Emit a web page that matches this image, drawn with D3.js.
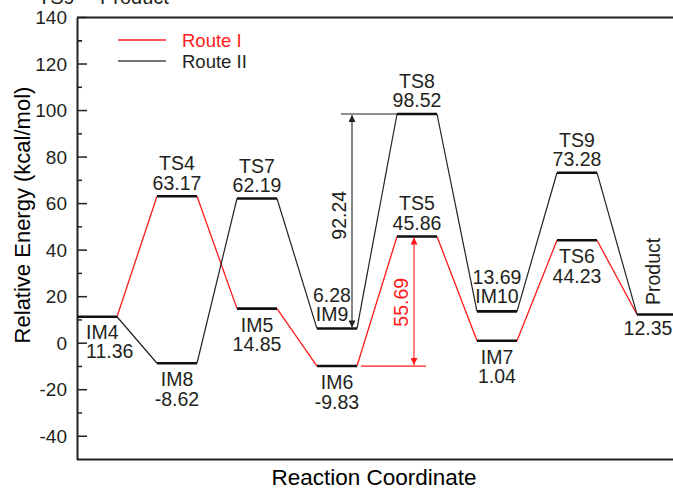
<!DOCTYPE html>
<html>
<head>
<meta charset="utf-8">
<script src="https://cdn.jsdelivr.net/npm/d3@7"></script>
<style>
  html, body { margin: 0; padding: 0; background: #fff; }
  svg { display: block; font-family: "Liberation Sans", Arial, sans-serif; }
</style>
</head>
<body>
<svg id="chart" width="673" height="489"></svg>
<script>
// ---------------- data ----------------
const routeINames   = ["IM4", "TS4", "IM5", "IM6", "TS5", "IM7", "TS6", "Product"];
const routeIValues  = [11.36, 63.17, 14.85, -9.83, 45.86, 1.04, 44.23, 12.35];
const routeIINames  = ["IM4", "IM8", "TS7", "IM9", "TS8", "IM10", "TS9", "Product"];
const routeIIValues = [11.36, -8.62, 62.19, 6.28, 98.52, 13.69, 73.28, 12.35];
const seriesNames   = ["Route I", "Route II"];
const yTickValues   = [-40, -20, 0, 20, 40, 60, 80, 100, 120, 140];
const barrierFrom   = ["IM6", "IM9"];
const barrierTo     = ["TS5", "TS8"];
const barrierValues = [55.69, 92.24];

(function () {
// ---------------- layout ----------------
const pL = 77, pT = 17.5, pB = 459.5, pR = 720;
const svg = d3.select("#chart");
const textColor = "#231f20";
const red = "#ff1a1a";
const fmt2 = v => v.toFixed(2);           // plain hyphen minus, as in the reference

const y = d3.scaleLinear().domain([-50, 140]).range([pB, pT]);
const x = d3.scaleLinear().domain([0, 1]).range([pL, pL + 80]); // slot index -> left edge of level
const levelW = x(0.5) - x(0);

// frame
svg.append("line").attr("x1", pL).attr("x2", pR).attr("y1", pT).attr("y2", pT)
  .attr("stroke", "#222").attr("stroke-width", 2);
svg.append("line").attr("x1", pL).attr("x2", pR).attr("y1", pB).attr("y2", pB)
  .attr("stroke", "#222").attr("stroke-width", 2);

// y axis
const yAxis = d3.axisLeft(y).tickValues(yTickValues).tickSize(0).tickPadding(10)
  .tickFormat(d => String(d));
const gy = svg.append("g").attr("transform", `translate(${pL},0)`).call(yAxis);
gy.select(".domain").attr("stroke", "#222").attr("stroke-width", 2);
gy.selectAll(".tick text").attr("font-size", 19).attr("fill", textColor)
  .attr("font-family", '"Liberation Sans", Arial, sans-serif');
// inward ticks (major + minor)
const majorTicks = yTickValues;
const minorTicks = yTickValues.map(v => v - 10).concat([130]).filter(v => v > -50);
svg.append("g").selectAll("line").data(majorTicks).join("line")
  .attr("x1", pL).attr("x2", pL + 10).attr("y1", d => y(d)).attr("y2", d => y(d))
  .attr("stroke", "#222").attr("stroke-width", 1.5);
svg.append("g").selectAll("line").data(minorTicks).join("line")
  .attr("x1", pL).attr("x2", pL + 5).attr("y1", d => y(d)).attr("y2", d => y(d))
  .attr("stroke", "#222").attr("stroke-width", 1.5);

// axis titles
svg.append("text").attr("transform", `translate(30,215) rotate(-90)`)
  .attr("text-anchor", "middle").attr("font-size", 22).attr("fill", "#000")
  .text("Relative Energy (kcal/mol)");
svg.append("text").attr("x", 374).attr("y", 485).attr("text-anchor", "middle")
  .attr("font-size", 22.5).attr("fill", "#000").text("Reaction Coordinate");

// partial text cut off at top (as in the reference)
svg.append("text").attr("x", 38).attr("y", 4).attr("font-size", 20).attr("fill", textColor).text("TS9");
svg.append("text").attr("x", 100).attr("y", 4).attr("font-size", 20).attr("fill", textColor).text("Product");

// connectors
function connectors(values) {
  const segs = [];
  for (let i = 0; i < values.length - 1; i++) {
    segs.push([[x(i + 0.5), y(values[i])], [x(i + 1), y(values[i + 1])]]);
  }
  return segs;
}
const lineGen = d3.line();
svg.append("g").selectAll("path").data(connectors(routeIValues)).join("path")
  .attr("d", lineGen).attr("stroke", red).attr("stroke-width", 1.3).attr("fill", "none");
svg.append("g").selectAll("path").data(connectors(routeIIValues)).join("path")
  .attr("d", lineGen).attr("stroke", "#222").attr("stroke-width", 1.2).attr("fill", "none");

// levels
const levels = [];
routeINames.forEach((n, i) => levels.push({ name: n, value: routeIValues[i], slot: i }));
routeIINames.forEach((n, i) => {
  if (!levels.find(l => l.name === n)) levels.push({ name: n, value: routeIIValues[i], slot: i });
});
svg.append("g").selectAll("line").data(levels).join("line")
  .attr("x1", d => x(d.slot)).attr("x2", d => x(d.slot + 0.5))
  .attr("y1", d => y(d.value)).attr("y2", d => y(d.value))
  .attr("stroke", "#111").attr("stroke-width", 2.6);

// labels
const above = new Set(["TS4", "TS7", "TS8", "TS5", "TS9"]);
const aboveValFirst = new Set(["IM9", "IM10"]);
const lab = svg.append("g").attr("font-size", 19.5).attr("fill", textColor);
levels.forEach(d => {
  const cx = x(d.slot) + levelW / 2;
  const ly = y(d.value);
  const val = fmt2(d.value);
  if (d.name === "IM4") {
    lab.append("text").attr("x", 86).attr("y", ly + 22).text(d.name);
    lab.append("text").attr("x", 86).attr("y", ly + 41.5).text(val);
  } else if (d.name === "Product") {
    lab.append("text").attr("x", cx - 9).attr("y", ly + 21).attr("text-anchor", "middle").text(val);
    lab.append("text").attr("transform", `translate(${cx + 3},${ly - 43}) rotate(-90)`)
      .attr("text-anchor", "middle").text(d.name);
  } else if (above.has(d.name)) {
    lab.append("text").attr("x", cx).attr("y", ly - 26).attr("text-anchor", "middle").text(d.name);
    lab.append("text").attr("x", cx).attr("y", ly - 6.5).attr("text-anchor", "middle").text(val);
  } else if (aboveValFirst.has(d.name)) {
    const ox = d.name === "IM9" ? -5 : 0;
    lab.append("text").attr("x", cx + ox).attr("y", ly - 27).attr("text-anchor", "middle").text(val);
    lab.append("text").attr("x", cx + ox).attr("y", ly - 8).attr("text-anchor", "middle").text(d.name);
  } else {
    lab.append("text").attr("x", cx).attr("y", ly + 23).attr("text-anchor", "middle").text(d.name);
    lab.append("text").attr("x", cx).attr("y", ly + 42.5).attr("text-anchor", "middle").text(val);
  }
});

// barrier arrows
const defs = svg.append("defs");
[["arrBlack", "#222"], ["arrRed", red]].forEach(([id, c]) => {
  defs.append("marker").attr("id", id).attr("viewBox", "0 0 10 10").attr("refX", 10).attr("refY", 5)
    .attr("markerWidth", 10).attr("markerHeight", 7).attr("markerUnits", "userSpaceOnUse")
    .attr("orient", "auto-start-reverse")
    .append("path").attr("d", "M0,0 L10,5 L0,10 Z").attr("fill", c);
});
const lvl = name => levels.find(l => l.name === name);
barrierValues.forEach((b, k) => {
  const lo = lvl(barrierFrom[k]), hi = lvl(barrierTo[k]);
  const isRed = k === 0;
  const c = isRed ? red : "#222";
  const ax = isRed ? x(hi.slot) + 17 : x(lo.slot + 0.5) - 5;
  if (isRed) {
    svg.append("line").attr("x1", x(lo.slot + 0.5) + 4).attr("x2", ax + 12)
      .attr("y1", y(lo.value)).attr("y2", y(lo.value)).attr("stroke", c).attr("stroke-width", 1.2);
  } else {
    svg.append("line").attr("x1", ax - 11).attr("x2", x(hi.slot))
      .attr("y1", y(hi.value)).attr("y2", y(hi.value)).attr("stroke", c).attr("stroke-width", 1.2);
  }
  svg.append("line").attr("x1", ax).attr("x2", ax)
    .attr("y1", y(lo.value) - 1).attr("y2", y(hi.value) + 1)
    .attr("stroke", c).attr("stroke-width", 1.1)
    .attr("marker-start", `url(#${isRed ? "arrRed" : "arrBlack"})`)
    .attr("marker-end", `url(#${isRed ? "arrRed" : "arrBlack"})`);
  const my = (y(lo.value) + y(hi.value)) / 2;
  svg.append("text").attr("transform", `translate(${ax - 6},${my + (isRed ? 1 : -6)}) rotate(-90)`)
    .attr("text-anchor", "middle").attr("font-size", 19.5).attr("fill", isRed ? red : textColor)
    .text(fmt2(b));
});

// legend
const legend = svg.append("g");
[[seriesNames[0], red, red, 40], [seriesNames[1], "#444", textColor, 61]].forEach(([t, lc, tc, ly]) => {
  legend.append("line").attr("x1", 118).attr("x2", 166).attr("y1", ly).attr("y2", ly)
    .attr("stroke", lc).attr("stroke-width", 1.3);
  legend.append("text").attr("x", 182).attr("y", ly + 6.5).attr("font-size", 18.5).attr("fill", tc).text(t);
});
})();
</script>
</body>
</html>
